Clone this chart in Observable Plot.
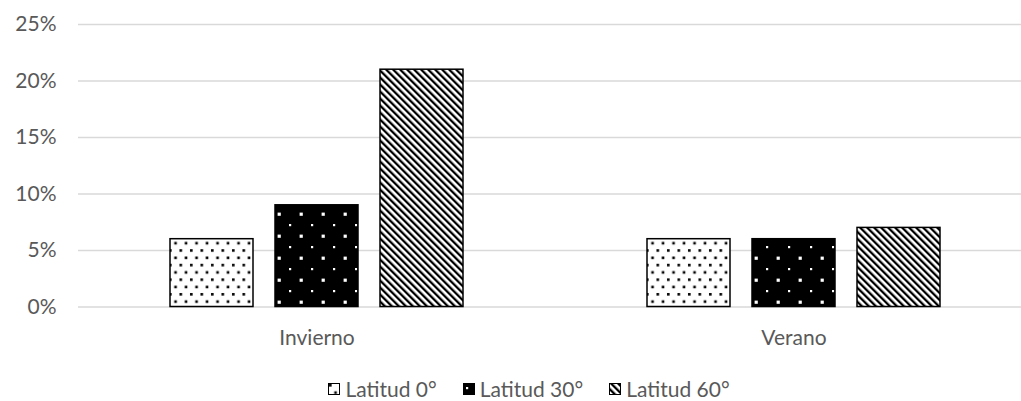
<!DOCTYPE html>
<html>
<head>
<meta charset="utf-8">
<script src="https://cdn.jsdelivr.net/npm/d3@7"></script>
<script src="https://cdn.jsdelivr.net/npm/@observablehq/plot@0.6"></script>
<style>
  body { margin: 0; background: white; font-family: Lato, "Open Sans", sans-serif; }
  #legend {
    display: flex; justify-content: center; align-items: center;
    height: 43px; box-sizing: border-box; padding-top: 17px; padding-left: 37px;
    font-size: 21px; line-height: 25px; color: #595959;
  }
  #legend .item { display: flex; align-items: center; margin: 0 13px; }
  #legend svg { margin-right: 5px; position: relative; top: 1px; }
</style>
</head>
<body>
<!-- fill patterns shared by the bars and the legend swatches -->
<svg width="0" height="0" style="position:absolute">
  <defs>
    <pattern id="lat0" patternUnits="userSpaceOnUse" width="10.5" height="14.6">
      <rect width="10.5" height="14.6" fill="white"/>
      <rect x="1" y="1" width="2.6" height="2.6" fill="black"/>
      <rect x="6.25" y="8.3" width="2.6" height="2.6" fill="black"/>
    </pattern>
    <pattern id="lat30" patternUnits="userSpaceOnUse" width="22" height="22">
      <rect width="22" height="22" fill="black"/>
      <rect x="3" y="4" width="2.2" height="2.2" fill="white"/>
      <rect x="13.6" y="14.6" width="3.2" height="3.2" fill="white"/>
    </pattern>
    <pattern id="lat60" patternUnits="userSpaceOnUse" width="4.95" height="10" patternTransform="rotate(-45)">
      <rect width="4.95" height="10" fill="white"/>
      <rect x="0" y="0" width="2.3" height="10" fill="black"/>
    </pattern>
  </defs>
</svg>
<div id="chart"></div>
<div id="legend"></div>
<script>
// Share of each latitude band per season
const seasons = ["Invierno", "Verano"];
const latitudes = ["Latitud 0°", "Latitud 30°", "Latitud 60°"];
const invierno = [0.06, 0.09, 0.21];
const verano = [0.06, 0.06, 0.07];
const yTicks = [0, 0.05, 0.10, 0.15, 0.20, 0.25];
const patternFills = ["url(#lat0)", "url(#lat30)", "url(#lat60)"];

const seriesBySeason = {Invierno: invierno, Verano: verano};
const data = seasons.flatMap(season =>
  latitudes.map((latitude, i) => ({season, latitude, value: seriesBySeason[season][i]}))
);

const chart = Plot.plot({
  width: 1021,
  height: 358,
  marginLeft: 78,
  marginRight: 0,
  marginTop: 24,
  marginBottom: 51.5,
  style: {fontFamily: "Lato, 'Open Sans', sans-serif", fontSize: "21px", color: "#595959", background: "white", overflow: "visible"},
  fx: {domain: seasons, range: [78, 1032], padding: 0, label: null, tickSize: 0, tickPadding: 23},
  x: {domain: latitudes, axis: null, paddingInner: 0.2075, paddingOuter: 0.854},
  y: {domain: [0, 0.25], ticks: yTicks, tickFormat: d3.format(".0%"), tickSize: 0, tickPadding: 22, label: null},
  color: {type: "ordinal", domain: latitudes, range: patternFills},
  marks: [
    Plot.ruleY(yTicks, {stroke: "#d9d9d9", strokeWidth: 1.5}),
    Plot.barY(data, {fx: "season", x: "latitude", y: "value", fill: "latitude", stroke: "black", strokeWidth: 1.5})
  ]
});
document.getElementById("chart").append(chart);

// Legend with patterned swatches
const legend = d3.select("#legend");
latitudes.forEach((name, i) => {
  const item = legend.append("div").attr("class", "item");
  const sw = item.append("svg").attr("width", 12).attr("height", 12);
  sw.append("rect").attr("x", 0.5).attr("y", 0.5).attr("width", 11).attr("height", 11)
    .attr("fill", patternFills[i]).attr("stroke", "black").attr("stroke-width", 1);
  item.append("span").text(name);
});
</script>
</body>
</html>
